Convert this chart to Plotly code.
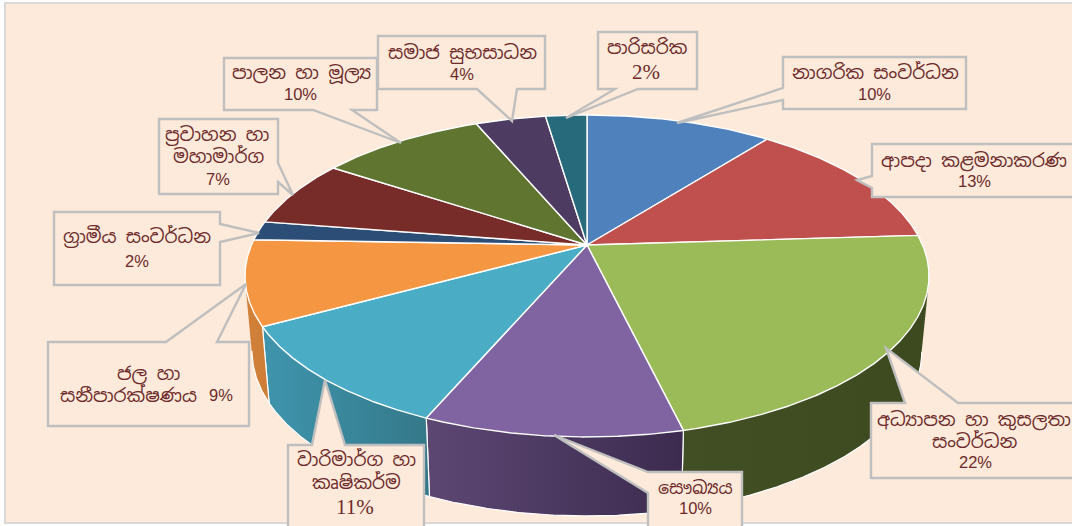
import numpy as np
import plotly.graph_objects as go

# ---------- data ----------
categories = ["නාගරික සංවර්ධන", "ආපදා කළමනාකරණ", "අධ්‍යාපන හා කුසලතා සංවර්ධන", "සෞඛ්‍යය",
              "වාරිමාර්ග හා කෘෂිකර්ම", "ජල හා සනීපාරක්ෂණය", "ග්‍රාමීය සංවර්ධන",
              "ප්‍රවාහන හා මහාමාර්ග", "පාලන හා මූල්‍ය", "සමාජ සුභසාධන", "පාරිසරික"]
percent_labels = [10, 13, 22, 10, 11, 9, 2, 7, 10, 4, 2]
slice_values = [10.6, 13.4, 22.25, 10.2, 10.6, 8.5, 1.9, 6.8, 9.4, 4.0, 2.35]

# ---------- style ----------
top_colors = ["#4F81BD", "#C0504D", "#9BBB59", "#8064A2", "#4BACC6", "#F59642",
              "#2C4D75", "#772C2A", "#5F7530", "#4D3B62", "#276A7C"]
wall_colors = [("#3B618E", "#3B618E"), ("#903C39", "#903C39"), ("#424F25", "#3D4A20"),
               ("#5C4773", "#3C2B4F"), ("#3F95AD", "#347889"), ("#D2813A", "#CE7D36"),
               ("#213A58", "#213A58"), ("#592120", "#592120"), ("#475824", "#475824"),
               ("#3A2C4A", "#3A2C4A"), ("#1D505D", "#1D505D")]
BG = "#FDEADA"
TXT = "#6E2A2A"
BOX = "#BFBFBF"
FONT = "Noto Sans Sinhala, Iskoola Pota, Noto Sans, DejaVu Sans, sans-serif"
NARROW = "Liberation Sans, sans-serif"
SERIF = "Liberation Serif, serif"

# ---------- perspective projection of the disc ----------
APEX = (587.0, 245.0)
A, B, K = 155.0, 335.6, 0.1925
TOP_C, TOP_R = (586.0, 276.0), (342.0, 161.0)
BOT_C, BOT_R = (586.0, 351.0), (335.0, 165.0)


def rim(t0, t1):
    th = np.linspace(t0, t1, max(int((t1 - t0) * 200), 6))
    u, v = np.sin(th), np.cos(th)
    d = 1 + K * v
    x, y = APEX[0] + B * u / d, APEX[1] - A * v / d
    ex, ey = (x - TOP_C[0]) / TOP_R[0], (y - TOP_C[1]) / TOP_R[1]
    return x, y, BOT_C[0] + BOT_R[0] * ex, BOT_C[1] + BOT_R[1] * ey


def hull(px, py):
    """Convex hull: the silhouette of a wall swept between the two rims."""
    pts = sorted(set(zip(px.tolist(), py.tolist())))

    def half(seq):
        out = []
        for p in seq:
            while len(out) > 1 and ((out[-1][0] - out[-2][0]) * (p[1] - out[-2][1])
                                    - (out[-1][1] - out[-2][1]) * (p[0] - out[-2][0])) <= 0:
                out.pop()
            out.append(p)
        return out[:-1]

    ring = half(pts) + half(pts[::-1])
    ring.append(ring[0])
    return [p[0] for p in ring], [p[1] for p in ring]


edges = np.concatenate([[0], np.cumsum(slice_values)]) / np.sum(slice_values) * 2 * np.pi

fig = go.Figure()
for i in range(len(slice_values)):
    x, y, bx, by = rim(edges[i], edges[i + 1])
    c0, c1 = wall_colors[i]
    hx, hy = hull(np.r_[x, bx], np.r_[y, by])
    fig.add_trace(go.Scatter(
        x=hx, y=hy, mode="lines", line=dict(width=0), fill="toself",
        fillgradient=dict(type="horizontal", colorscale=[[0, c0], [1, c1]]),
        hoverinfo="skip", showlegend=False))
    # white edges: the two slice ends and the front part of the lower rim only
    front = by >= BOT_C[1]
    lx = [x[0], bx[0], None] + bx[front].tolist() + [None, bx[-1], x[-1]]
    ly = [y[0], by[0], None] + by[front].tolist() + [None, by[-1], y[-1]]
    fig.add_trace(go.Scatter(x=lx, y=ly, mode="lines", line=dict(color="white", width=1.2),
                             hoverinfo="skip", showlegend=False))
for i in range(len(slice_values)):
    x, y, _, _ = rim(edges[i], edges[i + 1])
    fig.add_trace(go.Scatter(
        x=np.r_[APEX[0], x, APEX[0]], y=np.r_[APEX[1], y, APEX[1]],
        mode="lines", line=dict(color="white", width=1.4), fill="toself",
        fillcolor=top_colors[i], name=categories[i],
        text=f"{percent_labels[i]}%", hoverinfo="name+text", showlegend=False))

# ---------- callout boxes (page layout) ----------
callouts = [
    [(783, 57), (966, 57), (966, 109), (783, 109), (783, 100), (677, 123), (783, 88)],
    [(872, 144), (1074, 144), (1074, 197), (872, 197), (872, 188), (857, 180), (872, 176)],
    [(871, 403), (905, 403), (886, 348), (958, 403), (1074, 403), (1074, 478), (871, 478)],
    [(648, 472), (742, 472), (742, 530), (648, 530), (648, 493), (554, 435)],
    [(288, 445), (312, 445), (325, 380), (345, 445), (424, 445), (424, 530), (288, 530)],
    [(48, 342), (166, 342), (246, 284), (217, 342), (249, 342), (249, 426), (48, 426)],
    [(54, 212), (220, 212), (220, 224), (259, 233), (220, 242), (220, 285), (54, 285)],
    [(159, 119), (278, 119), (278, 163), (293, 195), (278, 182), (278, 194), (159, 194)],
    [(224, 58), (377, 58), (377, 110), (352, 110), (401, 143), (313, 110), (224, 110)],
    [(378, 36), (545, 36), (545, 89), (517, 89), (512, 121), (477, 89), (378, 89)],
    [(598, 32), (697, 32), (697, 89), (638, 89), (566, 118), (615, 89), (598, 89)],
]
# text lines of each callout: (line, x centre, y centre, size, family)
pct = [f"{p}%" for p in percent_labels]
S, P = 18.5, 16.5
lines = [
    [("නාගරික සංවර්ධන", 875, 72, S, FONT), (pct[0], 874, 94, P, NARROW)],
    [("ආපදා කළමනාකරණ", 974, 160, S, FONT), (pct[1], 974, 181, P, NARROW)],
    [("අධ්‍යාපන හා කුසලතා", 974, 419, S, FONT), ("සංවර්ධන", 975, 441, S, FONT), (pct[2], 975, 462, P, NARROW)],
    [("සෞඛ්‍යය", 695, 487, 17.5, FONT), (pct[3], 695, 508, P, NARROW)],
    [("වාරිමාර්ග හා", 356, 459, S, FONT), ("කෘෂිකර්ම", 356, 482, S, FONT), (pct[4], 355, 507, 21, SERIF)],
    [("ජල හා", 148, 373, S, FONT), ("සනීපාරක්ෂණය", 128, 395, S, FONT), (pct[5], 221, 395, P, NARROW)],
    [("ග්‍රාමීය සංවර්ධන", 137, 236, S, FONT), (pct[6], 137, 261, P, NARROW)],
    [("ප්‍රවාහන හා", 217, 134, S, FONT), ("මහාමාර්ග", 218, 156, S, FONT), (pct[7], 218, 179, P, NARROW)],
    [("පාලන හා මූල්‍ය", 301, 72, S, FONT), (pct[8], 300, 94, P, NARROW)],
    [("සමාජ සුභසාධන", 462, 52, S, FONT), (pct[9], 462, 74, P, NARROW)],
    [("පාරිසරික", 647, 47, S, FONT), (pct[10], 646, 72, 21, SERIF)],
]

shapes = [dict(type="rect", xref="x", yref="y", x0=5, y0=3, x1=1080, y1=523, layer="below",
               fillcolor=BG, line=dict(color="#D9D9D9", width=2))]
for poly in callouts:
    path = "M " + " L ".join(f"{px},{py}" for px, py in poly) + " Z"
    shapes.append(dict(type="path", path=path, xref="x", yref="y", layer="above",
                       fillcolor=BG, line=dict(color=BOX, width=2.4)))

annotations = []
for group in lines:
    for text, ax, ay, size, family in group:
        annotations.append(dict(text=text, x=ax, y=ay, xref="x", yref="y", showarrow=False,
                                xanchor="center", yanchor="middle",
                                font=dict(family=family, size=size, color=TXT)))

fig.update_layout(
    width=1072, height=526, margin=dict(l=0, r=0, t=0, b=0),
    paper_bgcolor="white", plot_bgcolor="white", showlegend=False,
    xaxis=dict(range=[0, 1072], visible=False, fixedrange=True),
    yaxis=dict(range=[526, 0], visible=False, fixedrange=True),
    shapes=shapes, annotations=annotations,
)
fig.write_html("out.html", config=dict(displayModeBar=False),
               post_script="document.body.style.margin='0';")
